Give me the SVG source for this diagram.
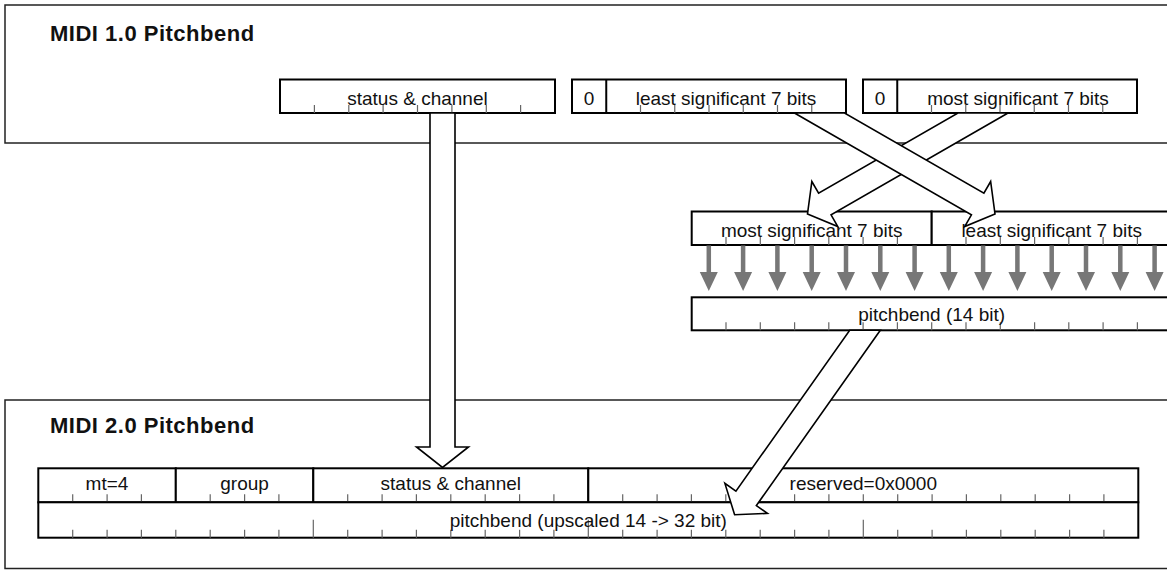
<svg xmlns="http://www.w3.org/2000/svg" width="1167" height="571" viewBox="0 0 1167 571">
<style>
.panel{fill:#fff;stroke:#222;stroke-width:1.5}
.box{fill:#fff;stroke:#000;stroke-width:2}
.tick{stroke:#666;stroke-width:1.2;fill:none}
.div{stroke:#000;stroke-width:2;fill:none}
.t{font-family:"Liberation Sans",Arial,sans-serif;font-size:19px;fill:#111;text-anchor:middle}
.title{font-family:"Liberation Sans",Arial,sans-serif;font-size:22px;font-weight:bold;letter-spacing:0.5px;fill:#111}
.blk{fill:#fff;stroke:#000;stroke-width:1.6;stroke-linejoin:miter}
.g{stroke:#777;stroke-width:4.5;fill:none}
.gh{fill:#777;stroke:none}
</style>
<rect width="1167" height="571" fill="#fff"/>

<g id="panel-midi1">
<rect class="panel" x="5" y="5" width="1200" height="138"/>
<text class="title" x="50" y="40.5">MIDI 1.0 Pitchbend</text>
</g>

<g id="panel-midi2">
<rect class="panel" x="5" y="400" width="1200" height="168.5"/>
<text class="title" x="50" y="432.5">MIDI 2.0 Pitchbend</text>
</g>

<g id="m1-status">
<rect class="box" x="280" y="79.5" width="275" height="33.5"/>
<path class="tick" d="M314.4 113v-8M348.8 113v-8M383.1 113v-8M417.5 113v-8M451.9 113v-8M486.3 113v-8M520.6 113v-8"/>
<text class="t" x="417.5" y="104.5">status &amp; channel</text>
</g>

<g id="m1-lsb">
<rect class="box" x="572" y="79.5" width="274" height="33.5"/>
<path class="div" d="M606.25 79.5V113"/>
<path class="tick" d="M640.5 113v-8M674.75 113v-8M709 113v-8M743.25 113v-8M777.5 113v-8M811.75 113v-8"/>
<text class="t" x="589" y="104.5">0</text>
<text class="t" x="726" y="104.5">least significant 7 bits</text>
</g>

<g id="m1-msb">
<rect class="box" x="863" y="79.5" width="274" height="33.5"/>
<path class="div" d="M897.25 79.5V113"/>
<path class="tick" d="M931.5 113v-8M965.75 113v-8M1000 113v-8M1034.25 113v-8M1068.5 113v-8M1102.75 113v-8"/>
<text class="t" x="880" y="104.5">0</text>
<text class="t" x="1018" y="104.5">most significant 7 bits</text>
</g>

<g id="mid-msb">
<rect class="box" x="691.7" y="211.5" width="240" height="33.5"/>
<path class="tick" d="M726 245v-8M760.3 245v-8M794.6 245v-8M828.8 245v-8M863.1 245v-8M897.4 245v-8"/>
<text class="t" x="811.7" y="236.5">most significant 7 bits</text>
</g>

<g id="mid-lsb">
<rect class="box" x="931.7" y="211.5" width="240" height="33.5"/>
<path class="tick" d="M966 245v-8M1000.3 245v-8M1034.6 245v-8M1068.8 245v-8M1103.1 245v-8M1137.4 245v-8"/>
<text class="t" x="1051.7" y="236.5">least significant 7 bits</text>
</g>

<g id="pitchbend14">
<rect class="box" x="691.7" y="297.3" width="480" height="33"/>
<path class="tick" d="M726 330.3v-8M760.3 330.3v-8M794.6 330.3v-8M828.8 330.3v-8M863.1 330.3v-8M897.4 330.3v-8M931.7 330.3v-8M966 330.3v-8M1000.3 330.3v-8M1034.6 330.3v-8M1068.8 330.3v-8M1103.1 330.3v-8M1137.4 330.3v-8"/>
<text class="t" x="931.7" y="321">pitchbend (14 bit)</text>
</g>

<g id="m2-mt">
<rect class="box" x="38.3" y="468.3" width="137.5" height="34"/>
<path class="tick" d="M72.7 502.3v-8M107.1 502.3v-8M141.4 502.3v-8"/>
<text class="t" x="107" y="490">mt=4</text>
</g>

<g id="m2-group">
<rect class="box" x="175.8" y="468.3" width="137.5" height="34"/>
<path class="tick" d="M210.2 502.3v-8M244.6 502.3v-8M278.9 502.3v-8"/>
<text class="t" x="244.6" y="490">group</text>
</g>

<g id="m2-status">
<rect class="box" x="313.3" y="468.3" width="275" height="34"/>
<path class="tick" d="M347.7 502.3v-8M382.1 502.3v-8M416.4 502.3v-8M450.8 502.3v-8M485.2 502.3v-8M519.6 502.3v-8M553.9 502.3v-8"/>
<text class="t" x="450.8" y="490">status &amp; channel</text>
</g>

<g id="m2-reserved">
<rect class="box" x="588.3" y="468.3" width="550" height="34"/>
<path class="tick" d="M622.7 502.3v-8M657.1 502.3v-8M691.4 502.3v-8M725.8 502.3v-8M760.2 502.3v-8M794.6 502.3v-8M828.9 502.3v-8M863.3 502.3v-8M897.7 502.3v-8M932.1 502.3v-8M966.4 502.3v-8M1000.8 502.3v-8M1035.2 502.3v-8M1069.6 502.3v-8M1103.9 502.3v-8"/>
<text class="t" x="863.3" y="490">reserved=0x0000</text>
</g>

<g id="m2-pitchbend">
<rect class="box" x="38.3" y="502.3" width="1100" height="35.4"/>
<path class="tick" d="M72.7 537.7v-8M107.1 537.7v-8M141.4 537.7v-8M175.8 537.7v-8M210.2 537.7v-8M244.6 537.7v-8M278.9 537.7v-8M347.7 537.7v-8M382.1 537.7v-8M416.4 537.7v-8M450.8 537.7v-8M485.2 537.7v-8M519.6 537.7v-8M553.9 537.7v-8M622.7 537.7v-8M657.1 537.7v-8M691.4 537.7v-8M725.8 537.7v-8M760.2 537.7v-8M794.6 537.7v-8M828.9 537.7v-8M897.7 537.7v-8M932.1 537.7v-8M966.4 537.7v-8M1000.8 537.7v-8M1035.2 537.7v-8M1069.6 537.7v-8M1103.9 537.7v-8"/>
<path class="tick" d="M313.3 537.7v-18M588.3 537.7v-18M863.3 537.7v-18"/>
<text class="t" x="588.3" y="526.5">pitchbend (upscaled 14 -&gt; 32 bit)</text>
</g>

<g id="connectors">
<polygon class="blk" points="430,113 455,113 455,447 468.5,447 442.5,467.5 416.5,447 430,447"/>
<polygon class="blk" points="1008.05,113 957.94,113 818.60,193.19 811.86,181.49 807.5,214 837.80,226.55 831.07,214.85"/>
<polygon class="blk" points="794.45,113 844.56,113 983.90,193.19 990.64,181.49 995,214 964.70,226.55 971.43,214.85"/>
<polygon class="blk" points="849.70,330.3 880.30,330.3 756.35,505.57 767.38,513.36 734.6,514.7 724.89,483.37 735.92,491.15"/>
<g id="bit-arrows">
<path class="g" d="M708.8 245.5V273M743.1 245.5V273M777.4 245.5V273M811.7 245.5V273M846 245.5V273M880.3 245.5V273M914.6 245.5V273M948.8 245.5V273M983.1 245.5V273M1017.4 245.5V273M1051.7 245.5V273M1086 245.5V273M1120.3 245.5V273M1154.6 245.5V273"/>
<path class="gh" d="M699.8 272h18l-9 19zM734.1 272h18l-9 19zM768.4 272h18l-9 19zM802.7 272h18l-9 19zM837 272h18l-9 19zM871.3 272h18l-9 19zM905.6 272h18l-9 19zM939.8 272h18l-9 19zM974.1 272h18l-9 19zM1008.4 272h18l-9 19zM1042.7 272h18l-9 19zM1077 272h18l-9 19zM1111.3 272h18l-9 19zM1145.6 272h18l-9 19z"/>
</g>
</g>
</svg>
